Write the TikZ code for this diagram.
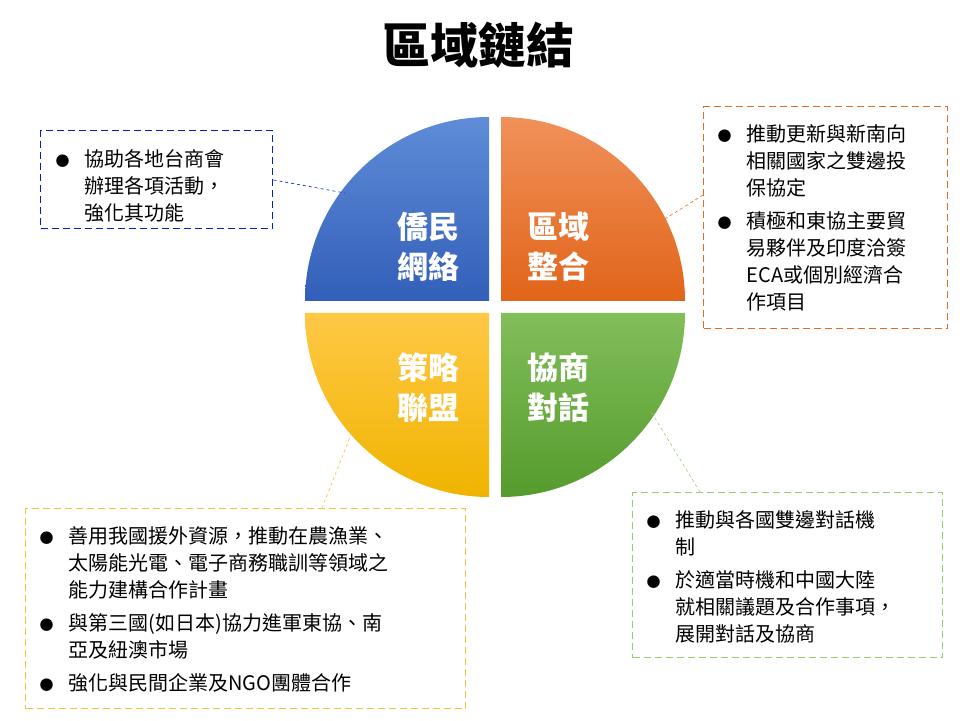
\documentclass[tikz,border=0pt]{standalone}
\usepackage{fontspec}
\setmainfont{Noto Sans CJK TC}
\newcommand\bul[1]{\par\noindent\hangindent=1.45em\hangafter=1\makebox[1.45em][l]{\fontsize{14}{14}\selectfont●}#1\par\vspace{6pt}}
\begin{document}
\begin{tikzpicture}[x=1pt,y=1pt,
  quad/.style={font=\fontsize{31}{40}\selectfont\bfseries,text=white,align=center},
  box/.style={draw,dash pattern=on 7pt off 4pt,line width=1.4pt,inner sep=0pt},
  btxt/.style={anchor=north west,text width=#1,font=\fontsize{20}{27}\selectfont},
  con/.style={dashed,line width=0.6pt}]
\useasboundingbox (0,0) rectangle (960,720);
\node[font=\fontsize{48}{52}\selectfont\bfseries] (title) at (478,675) {區域鏈結};
\shade[top color={rgb,255:red,95;green,140;blue,215},bottom color={rgb,255:red,50;green,95;blue,185}]
  (489,419) -- (305,419) arc (180:90:184) -- cycle;
\shade[top color={rgb,255:red,240;green,145;blue,90},bottom color={rgb,255:red,225;green,100;blue,25}]
  (501,419) -- (501,603) arc (90:0:184) -- cycle;
\shade[top color={rgb,255:red,130;green,190;blue,90},bottom color={rgb,255:red,85;green,155;blue,45}]
  (501,407) -- (685,407) arc (0:-90:184) -- cycle;
\shade[top color={rgb,255:red,255;green,200;blue,70},bottom color={rgb,255:red,240;green,180;blue,0}]
  (489,407) -- (489,223) arc (-90:-180:184) -- cycle;
\node[quad] (q1) at (428,473) {僑民\\網絡};
\node[quad] (q2) at (558,473) {區域\\整合};
\node[quad] (q3) at (428,332) {策略\\聯盟};
\node[quad] (q4) at (558,332) {協商\\對話};
\node[box,draw={rgb,255:red,0;green,32;blue,192},minimum width=232,minimum height=98,anchor=north west] (b1) at (40,590) {};
\node[btxt=225] at (52,584) {\bul{協助各地台商會\newline 辦理各項活動，\newline 強化其功能}};
\node[box,draw={rgb,255:red,225;green,110;blue,30},minimum width=244,minimum height=222,anchor=north west] (b2) at (703,614) {};
\node[btxt=240] at (714,609) {\bul{推動更新與新南向\newline 相關國家之雙邊投\newline 保協定}\bul{積極和東協主要貿\newline 易夥伴及印度洽簽\newline ECA或個別經濟合\newline 作項目}};
\node[box,draw={rgb,255:red,240;green,195;blue,60},minimum width=440,minimum height=200,anchor=north west] (b3) at (25,212) {};
\node[btxt=435] at (36,207) {\bul{善用我國援外資源，推動在農漁業、\newline 太陽能光電、電子商務職訓等領域之\newline 能力建構合作計畫}\bul{與第三國(如日本)協力進軍東協、南\newline 亞及紐澳市場}\bul{強化與民間企業及NGO團體合作}};
\node[box,draw={rgb,255:red,150;green,205;blue,110},minimum width=310,minimum height=165,anchor=north west] (b4) at (632,228) {};
\node[btxt=305] at (643,223) {\bul{推動與各國雙邊對話機\newline 制}\bul{於適當時機和中國大陸\newline 就相關議題及合作事項，\newline 展開對話及協商}};
\coordinate (c1) at (345,527);
\coordinate (c2) at (660,498);
\coordinate (c3) at (352,288);
\coordinate (c4) at (650,310);
\draw[con,draw={rgb,255:red,0;green,32;blue,192}] (b1.east |- 0,540) -- (c1);
\draw[con,draw={rgb,255:red,225;green,110;blue,30}] (b2.west |- 0,525) -- (c2);
\draw[con,draw={rgb,255:red,240;green,195;blue,60}] (322,212) -- (c3);
\draw[con,draw={rgb,255:red,150;green,205;blue,110}] (700,228) -- (c4);
\end{tikzpicture}
\end{document}
